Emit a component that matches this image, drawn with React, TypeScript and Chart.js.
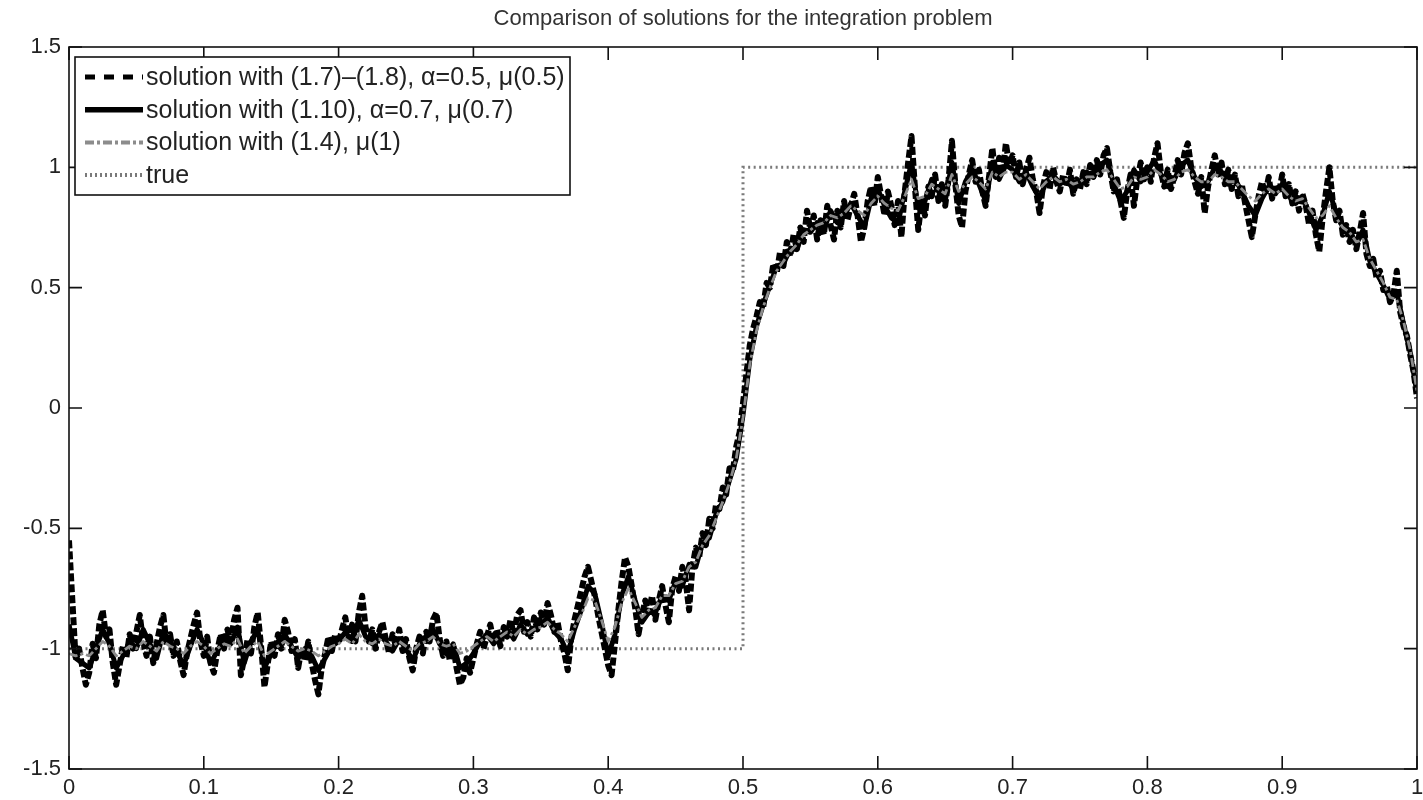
import React, { useEffect, useRef } from "react";
import { Chart, registerables } from "chart.js";

Chart.register(...registerables);

// ---- data ----
const titleText = "Comparison of solutions for the integration problem";

const seriesLabels = [
  "solution with (1.7)\u2013(1.8), \u03b1=0.5, \u03bc(0.5)",
  "solution with (1.10), \u03b1=0.7, \u03bc(0.7)",
  "solution with (1.4), \u03bc(1)",
  "true",
];

// solution (1.7)-(1.8): sampled on [0, 1] every 0.0025
const solutionA = [
  -0.55, -0.8, -1.05, -1.0, -1.08, -1.15, -1.1, -0.98, -1.04, -0.9,
  -0.84, -0.95, -0.92, -1.06, -1.15, -1.07, -0.99, -1.04, -0.94, -1.0,
  -0.93, -0.86, -0.97, -1.03, -0.95, -1.06, -0.98, -0.91, -0.86, -0.99,
  -0.94, -1.03, -0.97, -1.05, -1.11, -1.02, -0.96, -0.9, -0.85, -0.97,
  -1.03, -0.95, -1.06, -1.1, -1.01, -0.94, -1.0, -0.92, -0.97, -0.88,
  -0.83, -1.11, -1.04, -0.96, -1.02, -0.91, -0.85, -0.99, -1.16, -1.06,
  -0.97, -1.03, -0.94, -1.0, -0.88, -0.93, -1.01, -0.96, -1.08, -1.0,
  -1.05, -0.97, -1.06, -1.13, -1.19, -1.08, -1.02, -0.95, -1.01, -0.94,
  -0.98, -0.92, -0.87, -0.96, -0.9, -0.97, -0.85, -0.78, -0.91, -0.97,
  -0.92, -1.0, -0.93, -0.89, -0.96, -1.02, -0.94, -0.99, -0.92, -1.01,
  -0.96, -1.04, -1.09, -1.0, -0.95, -1.02, -0.93, -0.97, -0.88, -0.85,
  -0.96, -1.03, -0.97, -1.05, -0.99, -1.08, -1.15, -1.12, -1.04, -1.1,
  -1.04, -0.98, -0.93, -1.0, -0.95, -0.9, -0.97, -0.92, -0.99, -0.91,
  -0.95, -0.88, -0.94, -0.86, -0.84, -0.93, -0.89, -0.95, -0.87, -0.92,
  -0.85, -0.9, -0.81, -0.86, -0.93, -0.89, -0.97, -1.02, -1.09, -0.96,
  -0.88, -0.82, -0.76, -0.7, -0.66, -0.72, -0.78, -0.86, -0.93, -1.0,
  -1.07, -1.11, -0.98, -0.84, -0.72, -0.62, -0.66, -0.74, -0.83, -0.94,
  -0.86, -0.8, -0.85, -0.78, -0.88, -0.8, -0.74, -0.82, -0.89, -0.75,
  -0.7, -0.76, -0.66, -0.72, -0.84, -0.66, -0.58, -0.62, -0.52, -0.57,
  -0.46, -0.5, -0.4, -0.42, -0.33, -0.36, -0.25, -0.26, -0.16, -0.1,
  0.02, 0.14, 0.26, 0.33, 0.38, 0.44, 0.42, 0.52, 0.5, 0.6,
  0.56, 0.65, 0.59, 0.69, 0.63, 0.72, 0.66, 0.75, 0.69, 0.82,
  0.74, 0.8, 0.7, 0.78, 0.72, 0.84, 0.76, 0.7, 0.82, 0.75,
  0.86, 0.78, 0.84, 0.89, 0.8, 0.69, 0.75, 0.86, 0.92, 0.84,
  0.96, 0.88, 0.8, 0.9, 0.84, 0.76, 0.86, 0.71, 0.9, 1.02,
  1.13, 0.92, 0.74, 0.86, 0.8, 0.92, 0.88, 0.97, 0.86, 0.93,
  0.84, 0.95, 1.11, 0.93, 0.8, 0.75, 0.9, 0.97, 1.03, 0.94,
  0.99, 0.9, 0.84, 0.96, 1.08, 0.96, 1.04, 0.97, 1.1, 1.01,
  1.05, 0.96, 1.02, 0.93, 0.99, 1.04, 0.95, 0.9, 0.81, 0.92,
  0.98, 0.91, 1.0, 0.94, 0.9, 0.97, 0.92, 0.99, 0.89, 0.95,
  0.91, 0.98, 0.93, 1.01, 0.96, 1.03, 0.97, 1.05, 1.08, 0.98,
  0.9, 0.95, 0.86, 0.79, 0.9, 0.97, 0.84, 0.95, 1.02, 0.95,
  1.0, 0.94, 1.04, 1.1, 0.98, 0.92, 0.99, 0.91, 0.96, 1.03,
  0.97, 1.06, 1.1, 1.0, 0.94, 0.89, 0.96, 0.81, 0.92, 0.99,
  1.05, 0.97, 1.02, 0.93, 0.99, 0.91, 0.97, 0.88, 0.93, 0.85,
  0.78, 0.71, 0.8, 0.88, 0.94, 0.89, 0.96, 0.87, 0.93, 0.89,
  0.97, 0.88, 0.93, 0.85, 0.9, 0.82, 0.89, 0.84, 0.76, 0.82,
  0.72, 0.65, 0.79, 0.9, 1.0, 0.86, 0.78, 0.82, 0.72, 0.76,
  0.69, 0.74, 0.66, 0.73, 0.81, 0.64, 0.59, 0.62, 0.54, 0.57,
  0.49, 0.51, 0.44, 0.47, 0.57, 0.4, 0.34, 0.3, 0.22, 0.15,
  0.04,
];

// solution (1.10): sampled on [0, 1] every 0.005
const solutionB = [
  -0.9, -1.04, -1.06, -1.08, -1.0, -0.92, -0.98, -1.08, -1.03, -0.97,
  -1.0, -0.92, -0.98, -1.04, -0.93, -0.97, -1.01, -1.07, -0.99, -0.92,
  -0.98, -1.06, -1.01, -0.96, -0.98, -0.91, -1.06, -0.97, -0.92, -1.08,
  -1.02, -0.97, -0.94, -0.99, -1.04, -1.0, -1.03, -1.09, -1.04, -0.99,
  -0.97, -0.93, -0.97, -0.88, -0.95, -0.98, -0.94, -0.97, -1.01, -0.96,
  -1.0, -1.05, -0.98, -0.95, -0.92, -0.98, -1.02, -0.98, -1.08, -1.06,
  -1.02, -0.97, -0.94, -0.98, -0.95, -0.92, -0.96, -0.9, -0.94, -0.92,
  -0.9, -0.87, -0.93, -0.96, -1.02, -0.92, -0.84, -0.74, -0.77, -0.89,
  -1.03, -0.94, -0.78, -0.7, -0.8, -0.89, -0.85, -0.85, -0.78, -0.8,
  -0.72, -0.74, -0.65, -0.66, -0.56, -0.54, -0.44, -0.39, -0.3, -0.21,
  -0.03, 0.2, 0.34, 0.43, 0.51, 0.59, 0.6, 0.66, 0.66, 0.74,
  0.73, 0.77, 0.74, 0.82, 0.77, 0.8, 0.85, 0.8, 0.75, 0.87,
  0.91, 0.84, 0.79, 0.77, 0.9, 1.02, 0.83, 0.86, 0.95, 0.9,
  0.86, 1.02, 0.85, 0.94, 0.99, 0.93, 0.86, 1.02, 0.95, 1.01,
  0.99, 0.94, 0.98, 0.92, 0.87, 0.94, 0.97, 0.93, 0.95, 0.91,
  0.94, 0.98, 0.96, 1.01, 1.03, 0.93, 0.86, 0.9, 0.99, 0.94,
  0.98, 1.03, 0.97, 0.92, 0.95, 1.01, 1.03, 0.96, 0.92, 0.94,
  1.0, 0.98, 0.93, 0.95, 0.9, 0.84, 0.8, 0.87, 0.92, 0.89,
  0.93, 0.88, 0.85, 0.88, 0.81, 0.74, 0.8, 0.9, 0.81, 0.75,
  0.74, 0.68, 0.74, 0.61, 0.56, 0.51, 0.45, 0.48, 0.35, 0.23,
  0.06,
];

// solution (1.4): sampled on [0, 1] every 0.005
const solutionC = [
  -1.02, -1.03, -1.02, -1.03, -1.0, -0.97, -0.99, -1.03, -1.01, -0.99,
  -1.0, -0.97, -0.99, -1.01, -0.97, -0.99, -1.0, -1.02, -0.99, -0.97,
  -0.99, -1.02, -1.0, -0.98, -0.99, -0.96, -1.02, -0.99, -0.97, -1.03,
  -1.01, -0.99, -0.97, -0.99, -1.01, -1.0, -1.01, -1.03, -1.01, -0.99,
  -0.98, -0.96, -0.98, -0.94, -0.97, -0.98, -0.96, -0.98, -0.99, -0.97,
  -0.99, -1.01, -0.98, -0.97, -0.95, -0.98, -0.99, -0.98, -1.02, -1.01,
  -0.99, -0.97, -0.95, -0.97, -0.95, -0.93, -0.95, -0.92, -0.94, -0.92,
  -0.91, -0.89, -0.92, -0.94, -0.97, -0.91, -0.86, -0.79, -0.8, -0.88,
  -0.97, -0.91, -0.81, -0.75, -0.81, -0.87, -0.84, -0.83, -0.78, -0.78,
  -0.73, -0.72, -0.66, -0.64, -0.57, -0.53, -0.46, -0.39, -0.31, -0.21,
  -0.04, 0.18, 0.32, 0.42, 0.5, 0.57, 0.61, 0.65, 0.68, 0.72,
  0.74, 0.76, 0.77, 0.8, 0.79, 0.81, 0.84, 0.82, 0.8, 0.85,
  0.88, 0.85, 0.83, 0.82, 0.88, 0.95, 0.87, 0.88, 0.93, 0.91,
  0.89, 0.97, 0.9, 0.93, 0.96, 0.94, 0.91, 0.98, 0.96, 0.98,
  0.98, 0.95, 0.97, 0.94, 0.91, 0.94, 0.96, 0.94, 0.95, 0.93,
  0.94, 0.96, 0.96, 0.98, 0.99, 0.95, 0.91, 0.92, 0.96, 0.95,
  0.96, 0.99, 0.97, 0.94, 0.95, 0.98, 0.99, 0.96, 0.94, 0.94,
  0.97, 0.96, 0.94, 0.94, 0.91, 0.88, 0.86, 0.89, 0.91, 0.89,
  0.91, 0.88, 0.86, 0.87, 0.83, 0.79, 0.8, 0.84, 0.79, 0.75,
  0.73, 0.69, 0.7, 0.62, 0.57, 0.52, 0.46, 0.45, 0.36, 0.24,
  0.07,
];

const trueX = [0, 0.5, 0.5, 1];
const trueY = [-1, -1, 1, 1];

const xTickValues = [0, 0.1, 0.2, 0.3, 0.4, 0.5, 0.6, 0.7, 0.8, 0.9, 1];
const yTickValues = [-1.5, -1, -0.5, 0, 0.5, 1, 1.5];

// ---- helpers ----
const FONT = '"Liberation Sans", Arial, Helvetica, sans-serif';

// values are equally spaced samples on [0, 1]
const toPoints = (vals: number[]) =>
  vals.map((v, i) => ({ x: i / (vals.length - 1), y: v }));

const legendStyles = [
  { width: 5, dash: [10, 9] },
  { width: 5.5, dash: [] as number[] },
  { width: 4, dash: [9, 3, 3, 3] },
  { width: 4, dash: [2, 3] },
];

const framePlugin = {
  id: "matlabFrame",
  afterDatasetsDraw(chart: any) {
    const { ctx, chartArea, scales } = chart;
    const { left, right, top, bottom } = chartArea;
    const xs = scales.x;
    const ys = scales.y;
    ctx.save();
    ctx.strokeStyle = "#111";
    ctx.lineWidth = 1.6;
    ctx.setLineDash([]);
    ctx.strokeRect(left, top, right - left, bottom - top);
    const tl = 13;
    ctx.beginPath();
    xTickValues.forEach((v) => {
      const px = xs.getPixelForValue(v);
      ctx.moveTo(px, bottom);
      ctx.lineTo(px, bottom - tl);
      ctx.moveTo(px, top);
      ctx.lineTo(px, top + tl);
    });
    yTickValues.forEach((v) => {
      const py = ys.getPixelForValue(v);
      ctx.moveTo(left, py);
      ctx.lineTo(left + tl, py);
      ctx.moveTo(right, py);
      ctx.lineTo(right - tl, py);
    });
    ctx.stroke();

    // legend box (top-left, inside axes)
    const bx = left + 6;
    const by = top + 10;
    const bw = 495;
    const bh = 138;
    ctx.fillStyle = "#fff";
    ctx.fillRect(bx, by, bw, bh);
    ctx.strokeStyle = "#111";
    ctx.lineWidth = 1.6;
    ctx.strokeRect(bx, by, bw, bh);
    chart.data.datasets.forEach((ds: any, i: number) => {
      const cy = by + 20 + i * 32.7;
      const st = legendStyles[i];
      ctx.save();
      ctx.strokeStyle = ds.borderColor;
      ctx.lineWidth = st.width;
      ctx.setLineDash(st.dash);
      ctx.beginPath();
      ctx.moveTo(bx + 10, cy);
      ctx.lineTo(bx + 68, cy);
      ctx.stroke();
      ctx.restore();
      ctx.fillStyle = "#222";
      ctx.font = `25px ${FONT}`;
      ctx.textAlign = "left";
      ctx.textBaseline = "middle";
      ctx.fillText(ds.label, bx + 71, cy + 1);
    });
    ctx.restore();
  },
};

export default function App() {
  const canvasRef = useRef<HTMLCanvasElement | null>(null);

  useEffect(() => {
    const canvas = canvasRef.current;
    if (!canvas) return;
    const chart = new Chart(canvas, {
      type: "line",
      data: {
        datasets: [
          {
            label: seriesLabels[0],
            data: toPoints(solutionA),
            borderColor: "#000",
            borderWidth: 6,
            borderDash: [8, 3],
            borderJoinStyle: "round",
            borderCapStyle: "butt",
            pointRadius: 0,
            tension: 0,
            order: 2,
          },
          {
            label: seriesLabels[1],
            data: toPoints(solutionB),
            borderColor: "#000",
            borderWidth: 5,
            borderJoinStyle: "round",
            pointRadius: 0,
            tension: 0,
            order: 1,
          },
          {
            label: seriesLabels[2],
            data: toPoints(solutionC),
            borderColor: "#8c8c8c",
            borderWidth: 2.8,
            borderDash: [9, 3, 3, 3],
            borderJoinStyle: "round",
            pointRadius: 0,
            tension: 0,
            order: 0,
          },
          {
            label: seriesLabels[3],
            data: trueX.map((x, i) => ({ x, y: trueY[i] })),
            borderColor: "#7a7a7a",
            borderWidth: 3,
            borderDash: [2, 3.5],
            pointRadius: 0,
            tension: 0,
            order: 3,
          },
        ],
      },
      options: {
        responsive: false,
        animation: false,
        layout: { padding: { left: 0, right: 6, top: 0, bottom: 0 } },
        plugins: {
          legend: { display: false },
          tooltip: { enabled: false },
          title: {
            display: true,
            text: titleText,
            fullSize: false,
            color: "#333",
            font: { family: FONT, size: 22, weight: "normal", lineHeight: 1.2 },
            padding: { top: 6, bottom: 14.6 },
          },
        },
        scales: {
          x: {
            type: "linear",
            min: 0,
            max: 1,
            grid: { display: false, drawTicks: false },
            border: { display: false },
            afterFit: (s: any) => {
              s.height = 31;
              s.paddingLeft = 0;
              s.paddingRight = 0;
            },
            afterBuildTicks: (s: any) => {
              s.ticks = xTickValues.map((v) => ({ value: v }));
            },
            ticks: {
              autoSkip: false,
              maxRotation: 0,
              padding: 6,
              color: "#222",
              font: { family: FONT, size: 22 },
              callback: (v: any) => String(+Number(v).toFixed(1)),
            },
          },
          y: {
            type: "linear",
            min: -1.5,
            max: 1.5,
            grid: { display: false, drawTicks: false },
            border: { display: false },
            afterFit: (s: any) => {
              s.width = 69;
              s.paddingTop = 0;
              s.paddingBottom = 0;
            },
            afterBuildTicks: (s: any) => {
              s.ticks = yTickValues.map((v) => ({ value: v }));
            },
            ticks: {
              autoSkip: false,
              padding: 8,
              color: "#222",
              font: { family: FONT, size: 22 },
              callback: (v: any) => String(+Number(v).toFixed(1)),
            },
          },
        },
      },
      plugins: [framePlugin],
    } as any);
    return () => chart.destroy();
  }, []);

  return (
    <div
      style={{
        position: "absolute",
        left: 0,
        top: 0,
        width: 1423,
        height: 800,
        background: "#fff",
      }}
    >
      <canvas
        ref={canvasRef}
        width={1423}
        height={800}
        style={{ width: 1423, height: 800, display: "block" }}
      />
    </div>
  );
}
